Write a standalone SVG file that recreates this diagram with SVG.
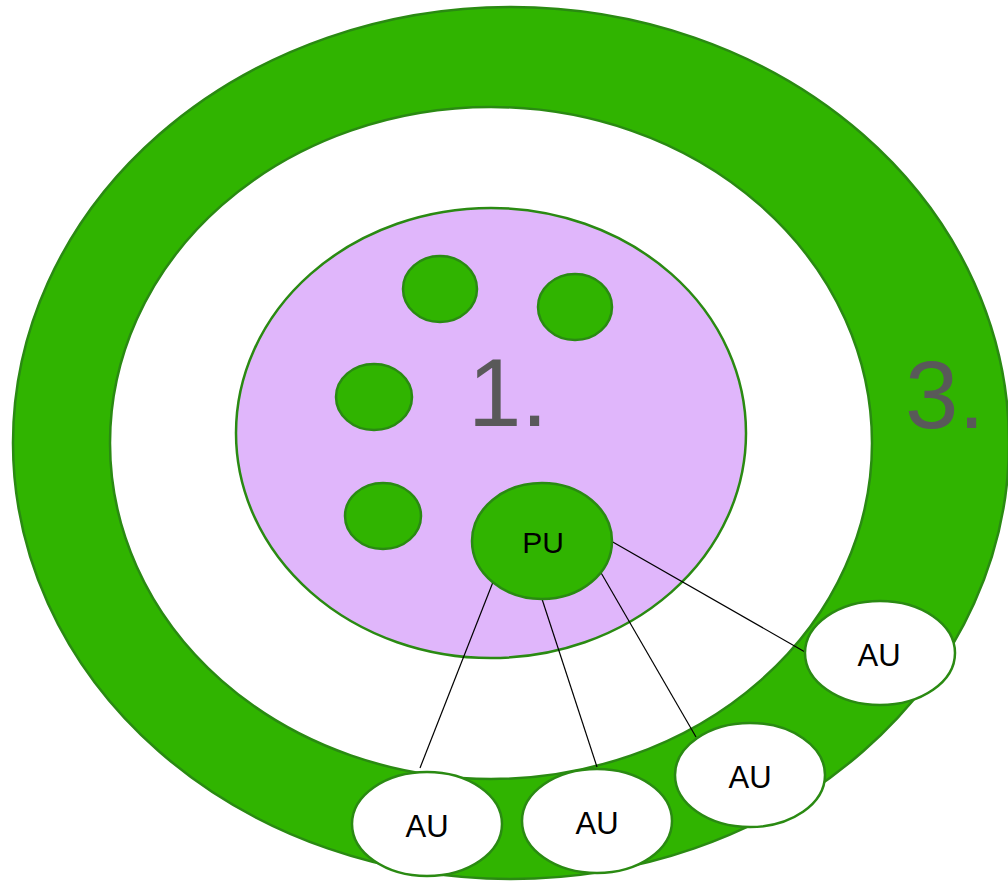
<svg xmlns="http://www.w3.org/2000/svg" width="1008" height="882" viewBox="0 0 1008 882">
  <style>
    .green { fill: #30b400; stroke: #2a8a12; stroke-width: 2.5; }
    .ring-hole { fill: #ffffff; stroke: #2a8a12; stroke-width: 2.5; }
    .core { fill: #e0b6fb; stroke: #2a8a12; stroke-width: 2.5; }
    .au { fill: #ffffff; stroke: #2a8a12; stroke-width: 2.5; }
    .label { font-family: "Liberation Sans", Arial, sans-serif; font-size: 31px; fill: #000000; text-anchor: middle; }
    .big { font-family: "Liberation Sans", Arial, sans-serif; font-size: 96px; fill: #595959; text-anchor: middle; }
    .link { stroke: #000000; stroke-width: 1.2; fill: none; }
  </style>
  <rect width="1008" height="882" fill="#ffffff"/>

  <g id="ring">
    <ellipse class="green" cx="511" cy="443" rx="498" ry="436"/>
    <ellipse class="ring-hole" cx="491" cy="443" rx="381" ry="336"/>
    <text class="big" x="945" y="428">3.</text>
  </g>

  <g id="core">
    <ellipse class="core" cx="491" cy="433" rx="255" ry="225"/>
    <text class="big" x="508" y="426">1.</text>
  </g>

  <g id="unit-a"><ellipse class="green" cx="440" cy="289" rx="37" ry="33"/></g>
  <g id="unit-b"><ellipse class="green" cx="575" cy="307" rx="37" ry="33"/></g>
  <g id="unit-c"><ellipse class="green" cx="374" cy="397" rx="38" ry="33"/></g>
  <g id="unit-d"><ellipse class="green" cx="383" cy="516" rx="38" ry="33"/></g>

  <g id="connectors">
    <line class="link" x1="604" y1="537" x2="805" y2="652"/>
    <line class="link" x1="600" y1="571" x2="696" y2="737"/>
    <line class="link" x1="542" y1="599" x2="597" y2="767"/>
    <line class="link" x1="493" y1="582" x2="420" y2="768"/>
  </g>

  <g id="pu">
    <ellipse class="green" cx="542" cy="541" rx="70" ry="58"/>
    <text class="label" x="543" y="553" style="font-size:30px">PU</text>
  </g>

  <g id="au-1">
    <ellipse class="au" cx="427" cy="824" rx="75" ry="52"/>
    <text class="label" x="427" y="837">AU</text>
  </g>
  <g id="au-2">
    <ellipse class="au" cx="597" cy="821" rx="75" ry="52"/>
    <text class="label" x="597" y="834">AU</text>
  </g>
  <g id="au-3">
    <ellipse class="au" cx="750" cy="775" rx="75" ry="52"/>
    <text class="label" x="750" y="788">AU</text>
  </g>
  <g id="au-4">
    <ellipse class="au" cx="880" cy="653" rx="75" ry="52"/>
    <text class="label" x="879" y="666">AU</text>
  </g>
</svg>
